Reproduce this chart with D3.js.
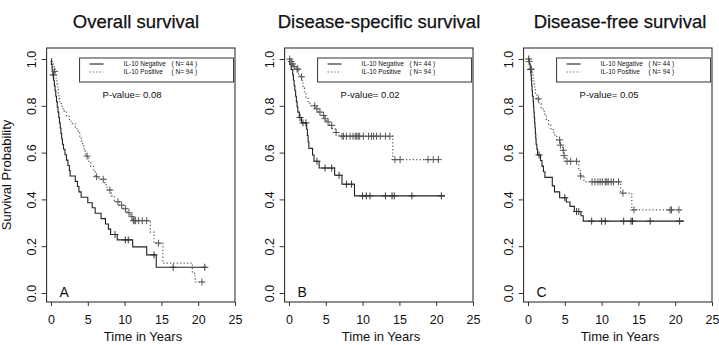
<!DOCTYPE html>
<meta charset="utf-8">
<style>
body { margin: 0; background: #fff; }
svg { font-family: "Liberation Sans", Arial, sans-serif; }
.box { fill: none; stroke: #333; stroke-width: 1.1px; }
.neg { fill: none; stroke: #222; stroke-width: 1.1px; }
.pos { fill: none; stroke: #555; stroke-width: 1.2px; stroke-dasharray: 1.2,2.2; }
.cens { stroke: #333; stroke-width: 1px; }
.cens.p { stroke: #555; }
.tick line { stroke: #333; }
.tick text { font-size: 12.5px; fill: #111; }
</style>
<body>
<script src="https://cdn.jsdelivr.net/npm/d3@7"></script>
<script>
var width = 719,
    height = 345;

var titles = ["Overall survival", "Disease-specific survival", "Disease-free survival"];
var letters = ["A", "B", "C"];
var pvalues = ["0.08", "0.02", "0.05"];
var groups = ["IL-10 Negative", "IL-10 Positive"];
var groupN = [44, 94];
var xTicks = [0, 5, 10, 15, 20, 25];
var yTicks = [0, 0.2, 0.4, 0.6, 0.8, 1.0];

// [time, survival after event]
var osNeg = [[0,1],[0.05,0.977],[0.15,0.955],[0.25,0.932],[0.35,0.909],[0.45,0.886],[0.55,0.864],[0.65,0.841],
  [0.75,0.818],[0.85,0.795],[0.95,0.773],[1.05,0.75],[1.15,0.727],[1.25,0.705],[1.35,0.682],[1.45,0.659],
  [1.55,0.636],[1.7,0.614],[1.9,0.591],[2.1,0.568],[2.3,0.545],[2.5,0.523],[2.6,0.5],[3.3,0.477],[3.6,0.455],
  [3.8,0.432],[4.1,0.409],[5.0,0.386],[5.6,0.364],[6.0,0.341],[6.8,0.318],[7.4,0.295],[7.8,0.273],[8.1,0.25],
  [9.0,0.227],[11.1,0.197],[13.0,0.163],[14.3,0.11]];
var osNegCens = [0.3, 8.7, 10.1, 10.5, 14.0, 16.6, 20.9];
var osNegEnd = 21;

var osPos = [[0,1],[0.1,0.989],[0.2,0.979],[0.3,0.968],[0.4,0.957],[0.5,0.947],[0.6,0.936],[0.7,0.915],
  [0.8,0.894],[0.9,0.872],[1.0,0.851],[1.1,0.83],[1.2,0.809],[1.5,0.787],[1.8,0.776],[2.1,0.755],[2.5,0.734],
  [2.9,0.723],[3.3,0.702],[3.7,0.691],[3.9,0.67],[4.1,0.649],[4.3,0.628],[4.5,0.606],[4.7,0.585],[5.1,0.563],
  [5.4,0.541],[5.8,0.519],[6.0,0.497],[6.5,0.486],[7.3,0.463],[7.6,0.44],[8.2,0.415],[8.6,0.39],[9.3,0.375],
  [9.8,0.36],[10.3,0.343],[10.8,0.326],[11.1,0.309],[13.5,0.26],[14.0,0.213],[15.2,0.128],[19.2,0.085],[19.6,0.047]];
var osPosCens = [0.5, 4.9, 6.2, 7.1, 8.0, 9.1, 9.6, 10.1, 10.6, 11.0, 11.2, 11.3, 11.5, 11.9, 12.4, 13.0, 14.6, 20.5];
var osPosEnd = 20.7;

var dssNeg = [[0,1],[0.1,0.977],[0.3,0.955],[0.5,0.932],[0.6,0.909],[0.7,0.886],[0.8,0.864],[0.9,0.841],
  [1.0,0.818],[1.1,0.795],[1.2,0.773],[1.4,0.75],[1.7,0.727],[2.4,0.7],[2.5,0.673],[2.6,0.645],[2.7,0.618],
  [3.2,0.59],[3.4,0.563],[4.1,0.534],[6.2,0.503],[7.2,0.465],[8.9,0.415]];
var dssNegCens = [1.5, 1.9, 2.3, 3.8, 4.9, 5.8, 6.8, 7.8, 8.5, 10.0, 10.5, 11.0, 13.1, 14.0, 14.3, 16.7, 20.7];
var dssNegEnd = 21.2;

var dssPos = [[0,1],[0.2,0.989],[0.4,0.979],[0.6,0.968],[0.9,0.957],[1.3,0.935],[1.5,0.924],[1.8,0.9],
  [1.9,0.877],[2.1,0.855],[2.3,0.832],[2.6,0.81],[3.0,0.8],[3.6,0.787],[4.0,0.773],[4.4,0.759],[4.8,0.745],
  [5.1,0.731],[5.5,0.716],[5.9,0.701],[6.3,0.686],[6.8,0.67],[14.1,0.57]];
var dssPosCens = [0.1, 0.3, 0.5, 0.7, 1.1, 1.2, 1.7, 3.5, 3.8, 4.2, 4.7, 4.9, 5.3, 5.8, 6.4, 7.2, 7.4, 7.8, 8.3,
  8.7, 9.0, 9.2, 9.4, 9.6, 10.1, 10.8, 11.2, 11.5, 11.9, 12.4, 13.1, 13.7, 14.4, 15.1, 18.9, 19.6, 20.3];
var dssPosEnd = 20.5;

var dfsNeg = [[0,1],[0.2,0.977],[0.3,0.955],[0.4,0.932],[0.45,0.909],[0.5,0.886],[0.55,0.864],[0.6,0.841],
  [0.7,0.818],[0.75,0.795],[0.8,0.773],[0.85,0.75],[0.9,0.727],[0.95,0.705],[1.0,0.682],[1.05,0.659],
  [1.1,0.636],[1.2,0.614],[1.3,0.59],[1.7,0.566],[1.9,0.542],[2.1,0.518],[2.3,0.494],[3.3,0.458],[3.6,0.432],
  [4.3,0.407],[5.2,0.389],[5.7,0.37],[6.3,0.348],[7.2,0.33],[7.5,0.307]];
var dfsNegCens = [0.1, 0.35, 1.5, 5.0, 6.6, 6.9, 8.65, 10.0, 10.5, 13.0, 14.0, 14.2, 16.6, 20.6];
var dfsNegEnd = 21.2;

var dfsPos = [[0,1],[0.1,0.989],[0.2,0.979],[0.3,0.968],[0.4,0.957],[0.5,0.947],[0.6,0.936],[0.7,0.915],
  [0.8,0.894],[0.9,0.872],[1.0,0.851],[1.2,0.83],[1.5,0.808],[1.8,0.786],[2.2,0.764],[2.5,0.742],[2.8,0.72],
  [3.1,0.698],[3.5,0.676],[3.9,0.654],[4.35,0.632],[4.7,0.61],[4.85,0.587],[5.1,0.563],[6.9,0.528],[7.1,0.5],
  [7.6,0.475],[12.6,0.427],[14.1,0.355]];
var dfsPosCens = [0.15, 0.45, 1.4, 4.3, 4.4, 4.8, 4.9, 5.3, 5.8, 6.6, 7.15, 8.7, 9.1, 9.5, 9.8, 10.1, 10.5,
  10.7, 10.9, 11.3, 11.6, 12.3, 12.9, 14.4, 19.3, 19.5, 20.5];
var dfsPosEnd = 20.9;

var panels = [
  { curves: [[osNeg, osNegCens, osNegEnd], [osPos, osPosCens, osPosEnd]] },
  { curves: [[dssNeg, dssNegCens, dssNegEnd], [dssPos, dssPosCens, dssPosEnd]] },
  { curves: [[dfsNeg, dfsNegCens, dfsNegEnd], [dfsPos, dfsPosCens, dfsPosEnd]] }
];

var zeroX = [51, 289, 528],
    titleX = [136, 379, 620],
    plotW = 184,       // 0..25 years
    yTop = 59, yBot = 293,
    boxTop = 48, boxBot = 302;

var svg = d3.select("body").append("svg")
    .attr("width", width)
    .attr("height", height);

svg.append("text")
    .attr("transform", "translate(11,175)rotate(-90)")
    .attr("text-anchor", "middle")
    .style("font-size", "13px")
    .style("fill", "#111")
    .text("Survival Probability");

function survAt(steps, t) {
  var s = 1;
  steps.forEach(function(d) { if (d[0] <= t) s = d[1]; });
  return s;
}

panels.forEach(function(p, i) {
  var x = d3.scaleLinear().domain([0, 25]).range([zeroX[i], zeroX[i] + plotW]),
      y = d3.scaleLinear().domain([0, 1]).range([yBot, yTop]);
  var left = x(-0.6), right = x(25);
  var g = svg.append("g");

  g.append("text")
      .attr("x", titleX[i]).attr("y", 28)
      .attr("text-anchor", "middle")
      .style("font-size", "18.5px")
      .style("fill", "#111")
      .style("stroke", "#111")
      .style("stroke-width", "0.25px")
      .text(titles[i]);

  // x axis
  var xa = g.append("g")
      .attr("transform", "translate(0," + boxBot + ")")
      .call(d3.axisBottom(x).tickValues(xTicks).tickSize(4).tickPadding(9));
  xa.select(".domain").remove();

  // y axis
  var ya = g.append("g")
      .attr("transform", "translate(" + left + ",0)")
      .call(d3.axisLeft(y).tickValues(yTicks).tickSize(5).tickFormat(d3.format(".1f")));
  ya.select(".domain").remove();
  ya.selectAll(".tick text")
      .attr("x", null).attr("dy", null)
      .attr("text-anchor", "middle")
      .attr("transform", "translate(-14.5,0)rotate(-90)")
      .attr("dy", "0.35em");

  g.append("rect").attr("class", "box")
      .attr("x", left).attr("y", boxTop)
      .attr("width", right - left).attr("height", boxBot - boxTop);

  g.append("text")
      .attr("x", x(12.5)).attr("y", 341)
      .attr("text-anchor", "middle")
      .style("font-size", "13px")
      .style("fill", "#111")
      .text("Time in Years");

  // legend
  var lx = left + 33;
  g.append("rect").attr("class", "box")
      .attr("x", lx).attr("y", 58).attr("width", 154).attr("height", 24)
      .style("stroke-width", "1px");
  groups.forEach(function(name, k) {
    var ly = 64 + k * 8;
    g.append("line").attr("class", k ? "pos" : "neg")
        .attr("x1", lx + 10).attr("x2", lx + 24).attr("y1", ly).attr("y2", ly);
    g.append("text").attr("x", lx + 44).attr("y", ly + 2.3)
        .style("font-size", "6.5px").style("fill", "#111").text(name);
    g.append("text").attr("x", lx + 92).attr("y", ly + 2.3)
        .style("font-size", "6.5px").style("fill", "#111").text("( N= " + groupN[k] + " )");
  });

  g.append("text")
      .attr("x", left + 56).attr("y", 97.5)
      .style("font-size", "9.5px").style("fill", "#111")
      .text("P-value= " + pvalues[i]);

  g.append("text")
      .attr("x", left + 13).attr("y", 297)
      .style("font-size", "14px").style("fill", "#111")
      .text(letters[i]);

  var line = d3.line()
      .x(function(d) { return x(d[0]); })
      .y(function(d) { return y(d[1]); })
      .curve(d3.curveStepAfter);

  p.curves.forEach(function(c, k) {
    var steps = c[0], cens = c[1], end = c[2];
    var pts = steps.concat([[end, steps[steps.length - 1][1]]]);
    g.append("path").attr("class", k ? "pos" : "neg").attr("d", line(pts));
    var m = g.selectAll(null).data(cens).enter().append("g")
        .attr("class", "cens" + (k ? " p" : ""))
        .attr("transform", function(t) { return "translate(" + x(t) + "," + y(survAt(steps, t)) + ")"; });
    m.append("line").attr("x1", -3.5).attr("x2", 3.5);
    m.append("line").attr("y1", -3.5).attr("y2", 3.5);
  });
});
</script>
